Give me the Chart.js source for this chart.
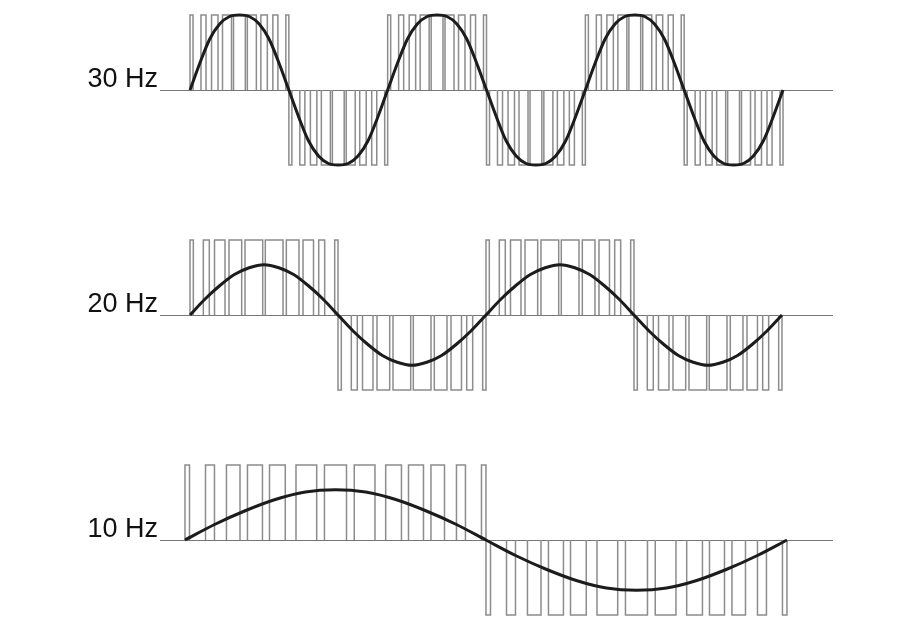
<!DOCTYPE html>
<html>
<head>
<meta charset="utf-8">
<script src="https://cdn.jsdelivr.net/npm/chart.js@4.4.1/dist/chart.umd.min.js"></script>
<style>
  html, body { margin: 0; padding: 0; background: #fff; overflow: hidden; }
  .panel { position: absolute; left: 0; width: 897px; height: 175px; }
</style>
</head>
<body>
<div class="panel" style="top:0px"><canvas id="c30" width="897" height="175"></canvas></div>
<div class="panel" style="top:225px"><canvas id="c20" width="897" height="175"></canvas></div>
<div class="panel" style="top:450px"><canvas id="c10" width="897" height="175"></canvas></div>
<script>
// panel labels
var panelLabels = ['30 Hz', '20 Hz', '10 Hz'];

// PWM pulses, time in ms: [on, off, level]
var pulses30 = [
  [0.00, 0.51, 1], [1.85, 2.70, 1], [3.63, 4.72, 1], [5.48, 7.00, 1], [7.34, 9.33, 1], [9.67, 11.19, 1], [11.95, 13.04, 1], [13.97, 14.82, 1], [16.16, 16.67, 1],
  [16.67, 17.18, -1], [18.52, 19.37, -1], [20.30, 21.39, -1], [22.15, 23.67, -1], [24.01, 26.00, -1], [26.34, 27.86, -1], [28.62, 29.71, -1], [30.64, 31.49, -1], [32.83, 33.33, -1],
  [33.33, 33.84, 1], [35.18, 36.03, 1], [36.96, 38.05, 1], [38.81, 40.33, 1], [40.67, 42.66, 1], [43.00, 44.52, 1], [45.28, 46.37, 1], [47.30, 48.15, 1], [49.49, 50.00, 1],
  [50.00, 50.51, -1], [51.85, 52.70, -1], [53.63, 54.72, -1], [55.48, 57.00, -1], [57.34, 59.33, -1], [59.67, 61.19, -1], [61.95, 63.04, -1], [63.97, 64.82, -1], [66.16, 66.67, -1],
  [66.67, 67.18, 1], [68.52, 69.37, 1], [70.30, 71.39, 1], [72.15, 73.67, 1], [74.01, 76.00, 1], [76.34, 77.86, 1], [78.62, 79.71, 1], [80.64, 81.49, 1], [82.83, 83.33, 1],
  [83.33, 83.84, -1], [85.18, 86.03, -1], [86.96, 88.05, -1], [88.81, 90.33, -1], [90.67, 92.66, -1], [93.00, 94.52, -1], [95.28, 96.37, -1], [97.30, 98.15, -1], [99.49, 100.00, -1]
];
var pulses20 = [
  [0.00, 0.56, 1], [2.25, 3.26, 1], [4.14, 5.91, 1], [6.59, 8.73, 1], [9.29, 12.28, 1], [12.72, 15.71, 1], [16.27, 18.41, 1], [19.09, 20.86, 1], [21.74, 22.75, 1], [24.44, 25.00, 1],
  [25.00, 25.56, -1], [27.25, 28.26, -1], [29.14, 30.91, -1], [31.59, 33.73, -1], [34.29, 37.28, -1], [37.72, 40.71, -1], [41.27, 43.41, -1], [44.09, 45.86, -1], [46.74, 47.75, -1], [49.44, 50.00, -1],
  [50.00, 50.56, 1], [52.25, 53.26, 1], [54.14, 55.91, 1], [56.59, 58.73, 1], [59.29, 62.28, 1], [62.72, 65.71, 1], [66.27, 68.41, 1], [69.09, 70.86, 1], [71.74, 72.75, 1], [74.44, 75.00, 1],
  [75.00, 75.56, -1], [77.25, 78.26, -1], [79.14, 80.91, -1], [81.59, 83.73, -1], [84.29, 87.28, -1], [87.72, 90.71, -1], [91.27, 93.41, -1], [94.09, 95.86, -1], [96.74, 97.75, -1], [99.44, 100.00, -1]
];
var pulses10 = [
  [0.00, 0.75, 1], [3.41, 4.90, 1], [6.89, 9.14, 1], [10.38, 12.87, 1], [14.04, 16.66, 1], [18.44, 21.88, 1], [23.17, 26.83, 1],
  [28.12, 31.56, 1], [33.34, 35.96, 1], [37.13, 39.62, 1], [40.86, 43.11, 1], [45.10, 46.59, 1], [49.25, 50.00, 1],
  [50.00, 50.75, -1], [53.41, 54.90, -1], [56.89, 59.14, -1], [60.38, 62.87, -1], [64.04, 66.66, -1], [68.44, 71.88, -1], [73.17, 76.83, -1],
  [78.12, 81.56, -1], [83.34, 85.96, -1], [87.13, 89.62, -1], [90.86, 93.11, -1], [95.10, 96.59, -1], [99.25, 100.00, -1]
];

// reference waves (time ms / relative voltage)
var time30 = [0, 1.67, 3.33, 5, 6.67, 8.33, 10, 11.67, 13.33, 15,
  16.67, 18.33, 20, 21.67, 23.33, 25, 26.67, 28.33, 30, 31.67,
  33.33, 35, 36.67, 38.33, 40, 41.67, 43.33, 45, 46.67, 48.33,
  50, 51.67, 53.33, 55, 56.67, 58.33, 60, 61.67, 63.33, 65,
  66.67, 68.33, 70, 71.67, 73.33, 75, 76.67, 78.33, 80, 81.67,
  83.33, 85, 86.67, 88.33, 90, 91.67, 93.33, 95, 96.67, 98.33, 100];
var wave30 = [0, 0.36, 0.68, 0.88, 0.98, 1, 0.98, 0.88, 0.68, 0.36,
  0, -0.36, -0.68, -0.88, -0.98, -1, -0.98, -0.88, -0.68, -0.36,
  0, 0.36, 0.68, 0.88, 0.98, 1, 0.98, 0.88, 0.68, 0.36,
  0, -0.36, -0.68, -0.88, -0.98, -1, -0.98, -0.88, -0.68, -0.36,
  0, 0.36, 0.68, 0.88, 0.98, 1, 0.98, 0.88, 0.68, 0.36,
  0, -0.36, -0.68, -0.88, -0.98, -1, -0.98, -0.88, -0.68, -0.36, 0];
var time20 = [0, 2.5, 5, 7.5, 10, 12.5, 15, 17.5, 20, 22.5,
  25, 27.5, 30, 32.5, 35, 37.5, 40, 42.5, 45, 47.5,
  50, 52.5, 55, 57.5, 60, 62.5, 65, 67.5, 70, 72.5,
  75, 77.5, 80, 82.5, 85, 87.5, 90, 92.5, 95, 97.5, 100];
var wave20 = [0, 0.21, 0.39, 0.54, 0.63, 0.67, 0.63, 0.54, 0.39, 0.21,
  0, -0.21, -0.39, -0.54, -0.63, -0.67, -0.63, -0.54, -0.39, -0.21,
  0, 0.21, 0.39, 0.54, 0.63, 0.67, 0.63, 0.54, 0.39, 0.21,
  0, -0.21, -0.39, -0.54, -0.63, -0.67, -0.63, -0.54, -0.39, -0.21, 0];
var time10 = [0, 5, 10, 15, 20, 25, 30, 35, 40, 45, 50, 55, 60, 65, 70, 75, 80, 85, 90, 95, 100];
var wave10 = [0, 0.21, 0.39, 0.54, 0.64, 0.67, 0.64, 0.54, 0.39, 0.21,
  0, -0.21, -0.39, -0.54, -0.64, -0.67, -0.64, -0.54, -0.39, -0.21, 0];

function pulsePoints(pulses) {
  var pts = [];
  pulses.forEach(function (p) {
    pts.push({x: p[0], y: 0}, {x: p[0], y: p[2]}, {x: p[1], y: p[2]}, {x: p[1], y: 0}, {x: p[1], y: null});
  });
  return pts;
}

function wavePoints(t, v) {
  return t.map(function (x, i) { return {x: x, y: v[i]}; });
}

// draws the "xx Hz" text left of the zero line
var hzLabel = {
  id: 'hzLabel',
  afterDraw: function (chart, args, opts) {
    var ctx = chart.ctx;
    var y = chart.scales.y.getPixelForValue(0);
    ctx.save();
    ctx.font = '27px "Liberation Sans", Arial, sans-serif';
    ctx.fillStyle = '#111';
    ctx.textAlign = 'right';
    ctx.textBaseline = 'alphabetic';
    ctx.fillText(opts.text, 158, y - 3);
    ctx.restore();
  }
};

function makePanel(id, label, pulses, t, v, xmin, xmax) {
  return new Chart(document.getElementById(id), {
    type: 'line',
    data: {
      datasets: [
        {
          data: wavePoints(t, v),
          borderColor: '#1c1c1c',
          borderWidth: 3,
          pointRadius: 0,
          cubicInterpolationMode: 'monotone',
          clip: false
        },
        {
          data: pulsePoints(pulses),
          borderColor: '#8c8c8c',
          borderWidth: 1.5,
          pointRadius: 0,
          tension: 0,
          spanGaps: false,
          clip: false
        }
      ]
    },
    options: {
      responsive: false,
      animation: false,
      events: [],
      layout: { padding: { left: 160, right: 65, top: 15, bottom: 10 } },
      plugins: {
        legend: { display: false },
        tooltip: { enabled: false },
        hzLabel: { text: label }
      },
      scales: {
        x: {
          type: 'linear',
          min: xmin,
          max: xmax,
          position: { y: 0 },
          grid: { display: false },
          ticks: { display: false },
          border: { display: true, color: '#777', width: 1 }
        },
        y: { min: -1, max: 1, display: false }
      }
    },
    plugins: [hzLabel]
  });
}

makePanel('c30', panelLabels[0], pulses30, time30, wave30, -5.06, 108.26);
makePanel('c20', panelLabels[1], pulses20, time20, wave20, -5.07, 108.45);
makePanel('c10', panelLabels[2], pulses10, time10, wave10, -4.15, 107.48);
</script>
</body>
</html>
